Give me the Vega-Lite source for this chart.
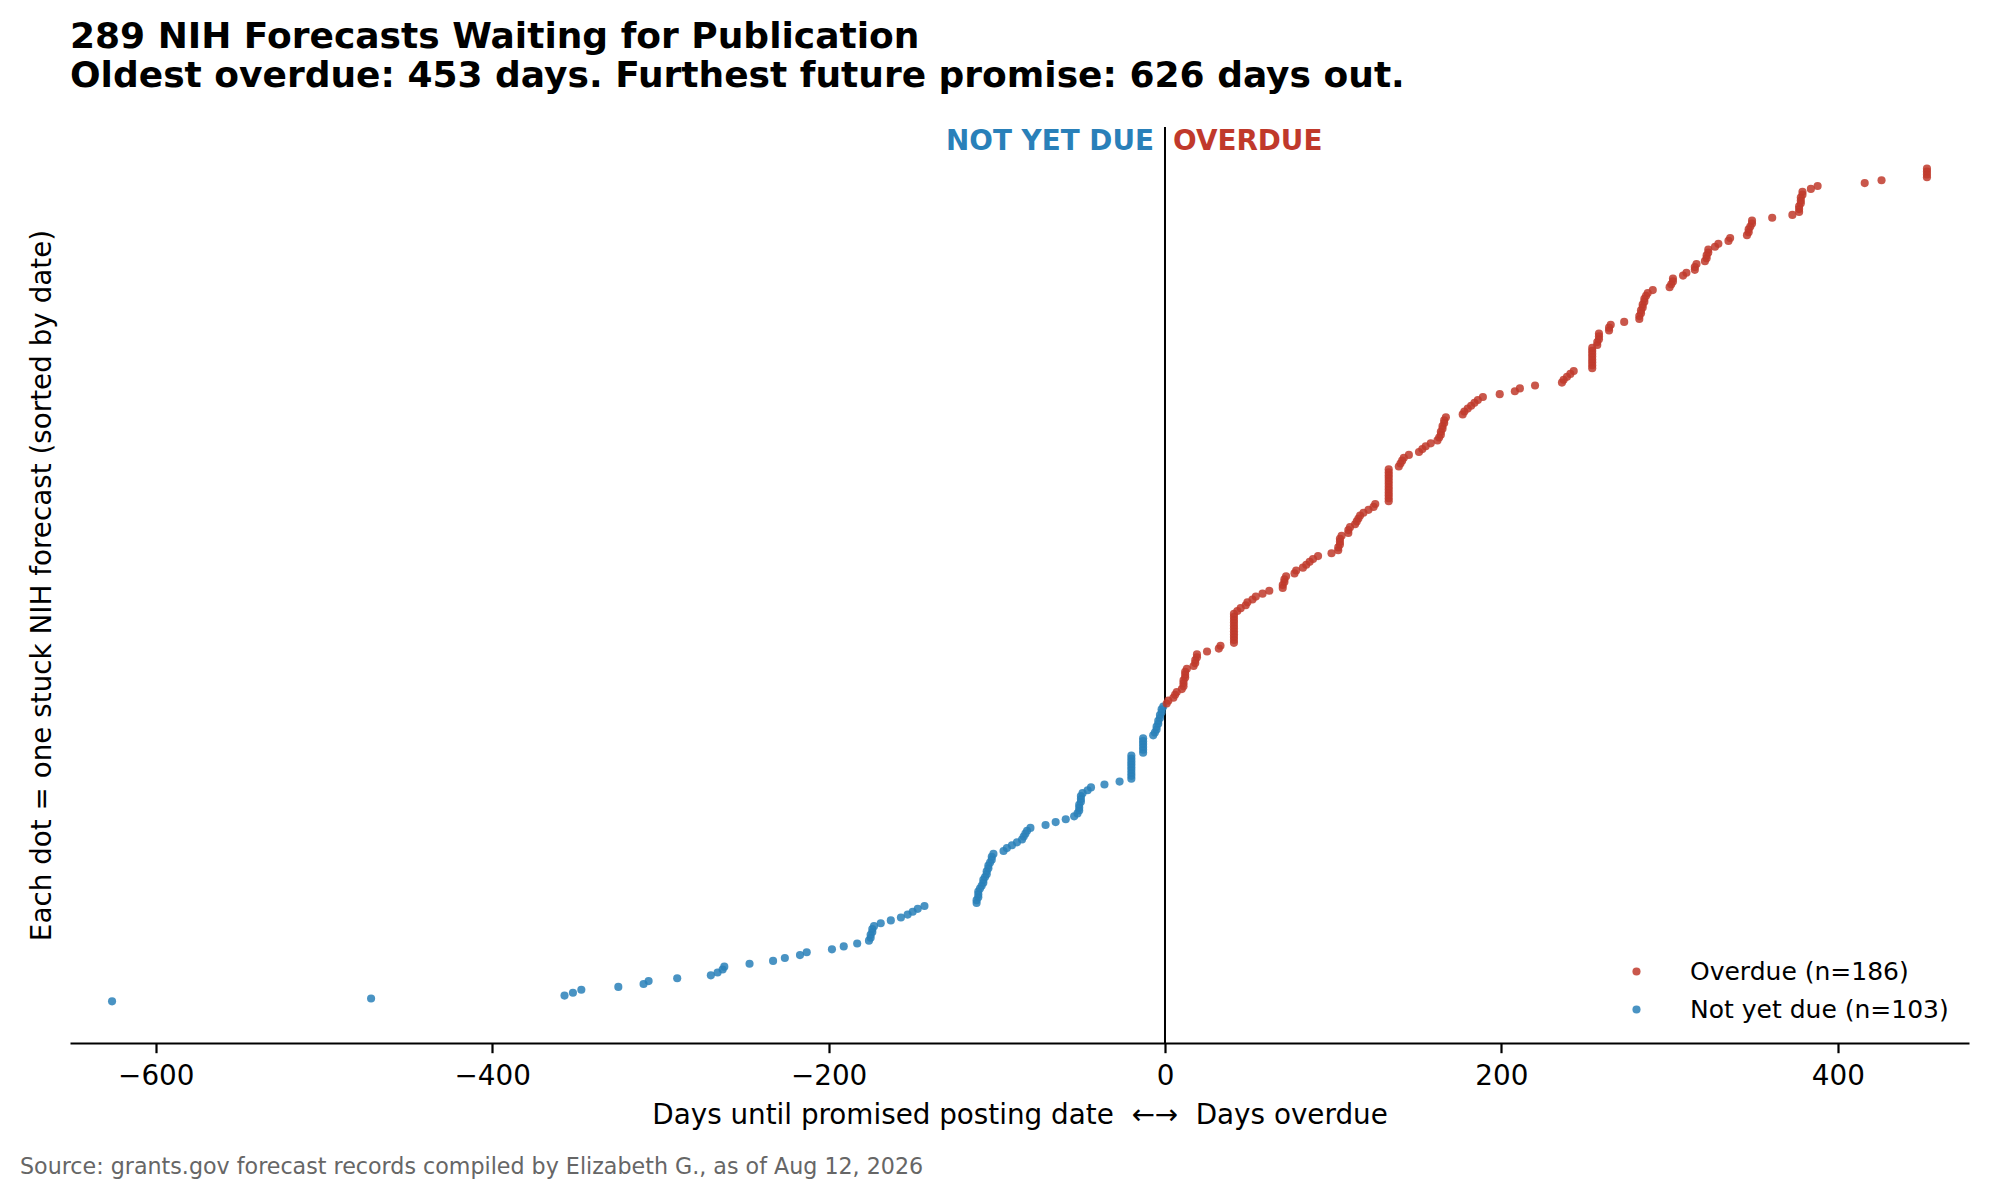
{
  "$schema": "https://vega.github.io/schema/vega-lite/v6.json",
  "width": 1899,
  "height": 916,
  "autosize": {"type": "none"},
  "padding": {"left": 70, "top": 127, "right": 20, "bottom": 155},
  "background": "white",
  "config": {"font": "DejaVu Sans", "view": {"stroke": null}, "axis": {"grid": false}},
  "title": {
    "text": ["289 NIH Forecasts Waiting for Publication", "Oldest overdue: 453 days. Furthest future promise: 626 days out."],
    "anchor": "start",
    "frame": "group",
    "fontSize": 36,
    "fontWeight": "bold",
    "font": "DejaVu Sans",
    "color": "black",
    "offset": 31,
    "lineHeight": 39
  },
  "layer": [
    {
      "data": {"values": [{}]},
      "mark": {"type": "rule", "color": "black", "strokeWidth": 2},
      "encoding": {
        "x": {"datum": 0, "type": "quantitative", "title": "Days until promised posting date\u00a0 ←→ \u00a0Days overdue"}
      }
    },
    {
      "data": {
        "values": [
          {"days": -626, "status": "Not yet due"}, {"days": -472, "status": "Not yet due"}, {"days": -357, "status": "Not yet due"}, {"days": -352, "status": "Not yet due"}, {"days": -347, "status": "Not yet due"}, {"days": -325, "status": "Not yet due"}, {"days": -310, "status": "Not yet due"}, {"days": -307, "status": "Not yet due"}, {"days": -290, "status": "Not yet due"}, {"days": -270, "status": "Not yet due"},
          {"days": -266, "status": "Not yet due"}, {"days": -263, "status": "Not yet due"}, {"days": -262, "status": "Not yet due"}, {"days": -247, "status": "Not yet due"}, {"days": -233, "status": "Not yet due"}, {"days": -226, "status": "Not yet due"}, {"days": -217, "status": "Not yet due"}, {"days": -213, "status": "Not yet due"}, {"days": -198, "status": "Not yet due"}, {"days": -191, "status": "Not yet due"},
          {"days": -183, "status": "Not yet due"}, {"days": -176, "status": "Not yet due"}, {"days": -175, "status": "Not yet due"}, {"days": -175, "status": "Not yet due"}, {"days": -174, "status": "Not yet due"}, {"days": -174, "status": "Not yet due"}, {"days": -173, "status": "Not yet due"}, {"days": -169, "status": "Not yet due"}, {"days": -163, "status": "Not yet due"}, {"days": -157, "status": "Not yet due"},
          {"days": -153, "status": "Not yet due"}, {"days": -150, "status": "Not yet due"}, {"days": -147, "status": "Not yet due"}, {"days": -143, "status": "Not yet due"},
          {"days": -112, "status": "Not yet due"}, {"days": -112, "status": "Not yet due"}, {"days": -111, "status": "Not yet due"}, {"days": -111, "status": "Not yet due"}, {"days": -111, "status": "Not yet due"}, {"days": -110, "status": "Not yet due"},
          {"days": -109, "status": "Not yet due"}, {"days": -108, "status": "Not yet due"}, {"days": -108, "status": "Not yet due"}, {"days": -107, "status": "Not yet due"}, {"days": -106, "status": "Not yet due"}, {"days": -106, "status": "Not yet due"}, {"days": -105, "status": "Not yet due"}, {"days": -105, "status": "Not yet due"}, {"days": -104, "status": "Not yet due"}, {"days": -103, "status": "Not yet due"}, {"days": -103, "status": "Not yet due"}, {"days": -102, "status": "Not yet due"},
          {"days": -96, "status": "Not yet due"}, {"days": -94, "status": "Not yet due"}, {"days": -91, "status": "Not yet due"}, {"days": -88, "status": "Not yet due"}, {"days": -85, "status": "Not yet due"}, {"days": -84, "status": "Not yet due"}, {"days": -83, "status": "Not yet due"}, {"days": -82, "status": "Not yet due"}, {"days": -80, "status": "Not yet due"},
          {"days": -71, "status": "Not yet due"}, {"days": -65, "status": "Not yet due"}, {"days": -59, "status": "Not yet due"}, {"days": -54, "status": "Not yet due"},
          {"days": -52, "status": "Not yet due"}, {"days": -51, "status": "Not yet due"}, {"days": -51, "status": "Not yet due"}, {"days": -51, "status": "Not yet due"}, {"days": -50, "status": "Not yet due"}, {"days": -50, "status": "Not yet due"}, {"days": -50, "status": "Not yet due"}, {"days": -49, "status": "Not yet due"},
          {"days": -46, "status": "Not yet due"}, {"days": -44, "status": "Not yet due"}, {"days": -36, "status": "Not yet due"}, {"days": -27, "status": "Not yet due"},
          {"days": -20, "status": "Not yet due"}, {"days": -20, "status": "Not yet due"}, {"days": -20, "status": "Not yet due"}, {"days": -20, "status": "Not yet due"}, {"days": -20, "status": "Not yet due"}, {"days": -20, "status": "Not yet due"}, {"days": -20, "status": "Not yet due"}, {"days": -20, "status": "Not yet due"}, {"days": -20, "status": "Not yet due"},
          {"days": -13, "status": "Not yet due"}, {"days": -13, "status": "Not yet due"}, {"days": -13, "status": "Not yet due"}, {"days": -13, "status": "Not yet due"}, {"days": -13, "status": "Not yet due"}, {"days": -13, "status": "Not yet due"},
          {"days": -7, "status": "Not yet due"}, {"days": -6, "status": "Not yet due"}, {"days": -5, "status": "Not yet due"}, {"days": -5, "status": "Not yet due"}, {"days": -4, "status": "Not yet due"}, {"days": -4, "status": "Not yet due"}, {"days": -3, "status": "Not yet due"}, {"days": -3, "status": "Not yet due"}, {"days": -2, "status": "Not yet due"}, {"days": -2, "status": "Not yet due"}, {"days": -1, "status": "Not yet due"},
          {"days": 1, "status": "Overdue"}, {"days": 2, "status": "Overdue"}, {"days": 5, "status": "Overdue"}, {"days": 6, "status": "Overdue"}, {"days": 7, "status": "Overdue"}, {"days": 10, "status": "Overdue"}, {"days": 11, "status": "Overdue"}, {"days": 11, "status": "Overdue"}, {"days": 11, "status": "Overdue"}, {"days": 12, "status": "Overdue"},
          {"days": 12, "status": "Overdue"}, {"days": 12, "status": "Overdue"}, {"days": 13, "status": "Overdue"}, {"days": 17, "status": "Overdue"}, {"days": 18, "status": "Overdue"}, {"days": 18, "status": "Overdue"}, {"days": 19, "status": "Overdue"}, {"days": 19, "status": "Overdue"}, {"days": 25, "status": "Overdue"}, {"days": 32, "status": "Overdue"},
          {"days": 33, "status": "Overdue"},
          {"days": 41, "status": "Overdue"}, {"days": 41, "status": "Overdue"}, {"days": 41, "status": "Overdue"}, {"days": 41, "status": "Overdue"}, {"days": 41, "status": "Overdue"}, {"days": 41, "status": "Overdue"}, {"days": 41, "status": "Overdue"}, {"days": 41, "status": "Overdue"}, {"days": 41, "status": "Overdue"}, {"days": 41, "status": "Overdue"}, {"days": 41, "status": "Overdue"},
          {"days": 43, "status": "Overdue"}, {"days": 45, "status": "Overdue"}, {"days": 48, "status": "Overdue"}, {"days": 49, "status": "Overdue"}, {"days": 52, "status": "Overdue"}, {"days": 54, "status": "Overdue"}, {"days": 58, "status": "Overdue"}, {"days": 62, "status": "Overdue"},
          {"days": 70, "status": "Overdue"}, {"days": 70, "status": "Overdue"}, {"days": 71, "status": "Overdue"}, {"days": 71, "status": "Overdue"}, {"days": 72, "status": "Overdue"}, {"days": 77, "status": "Overdue"}, {"days": 78, "status": "Overdue"},
          {"days": 82, "status": "Overdue"}, {"days": 84, "status": "Overdue"}, {"days": 86, "status": "Overdue"}, {"days": 88, "status": "Overdue"}, {"days": 91, "status": "Overdue"}, {"days": 99, "status": "Overdue"},
          {"days": 103, "status": "Overdue"}, {"days": 103, "status": "Overdue"}, {"days": 104, "status": "Overdue"}, {"days": 104, "status": "Overdue"}, {"days": 104, "status": "Overdue"}, {"days": 105, "status": "Overdue"}, {"days": 109, "status": "Overdue"}, {"days": 109, "status": "Overdue"}, {"days": 110, "status": "Overdue"}, {"days": 113, "status": "Overdue"}, {"days": 114, "status": "Overdue"}, {"days": 115, "status": "Overdue"}, {"days": 116, "status": "Overdue"},
          {"days": 118, "status": "Overdue"}, {"days": 121, "status": "Overdue"}, {"days": 124, "status": "Overdue"}, {"days": 125, "status": "Overdue"},
          {"days": 133, "status": "Overdue"}, {"days": 133, "status": "Overdue"}, {"days": 133, "status": "Overdue"}, {"days": 133, "status": "Overdue"}, {"days": 133, "status": "Overdue"}, {"days": 133, "status": "Overdue"}, {"days": 133, "status": "Overdue"}, {"days": 133, "status": "Overdue"}, {"days": 133, "status": "Overdue"}, {"days": 133, "status": "Overdue"}, {"days": 133, "status": "Overdue"}, {"days": 133, "status": "Overdue"},
          {"days": 139, "status": "Overdue"}, {"days": 140, "status": "Overdue"}, {"days": 141, "status": "Overdue"}, {"days": 142, "status": "Overdue"}, {"days": 145, "status": "Overdue"}, {"days": 151, "status": "Overdue"}, {"days": 153, "status": "Overdue"}, {"days": 155, "status": "Overdue"}, {"days": 158, "status": "Overdue"},
          {"days": 162, "status": "Overdue"}, {"days": 163, "status": "Overdue"}, {"days": 164, "status": "Overdue"}, {"days": 164, "status": "Overdue"}, {"days": 165, "status": "Overdue"}, {"days": 165, "status": "Overdue"}, {"days": 166, "status": "Overdue"}, {"days": 166, "status": "Overdue"}, {"days": 167, "status": "Overdue"},
          {"days": 177, "status": "Overdue"}, {"days": 178, "status": "Overdue"}, {"days": 180, "status": "Overdue"}, {"days": 182, "status": "Overdue"}, {"days": 184, "status": "Overdue"}, {"days": 186, "status": "Overdue"}, {"days": 189, "status": "Overdue"}, {"days": 199, "status": "Overdue"}, {"days": 208, "status": "Overdue"}, {"days": 211, "status": "Overdue"}, {"days": 220, "status": "Overdue"},
          {"days": 236, "status": "Overdue"}, {"days": 237, "status": "Overdue"}, {"days": 239, "status": "Overdue"}, {"days": 241, "status": "Overdue"}, {"days": 243, "status": "Overdue"},
          {"days": 254, "status": "Overdue"}, {"days": 254, "status": "Overdue"}, {"days": 254, "status": "Overdue"}, {"days": 254, "status": "Overdue"}, {"days": 254, "status": "Overdue"}, {"days": 254, "status": "Overdue"}, {"days": 254, "status": "Overdue"}, {"days": 254, "status": "Overdue"},
          {"days": 257, "status": "Overdue"}, {"days": 257, "status": "Overdue"}, {"days": 258, "status": "Overdue"}, {"days": 258, "status": "Overdue"}, {"days": 258, "status": "Overdue"}, {"days": 264, "status": "Overdue"}, {"days": 264, "status": "Overdue"}, {"days": 265, "status": "Overdue"}, {"days": 273, "status": "Overdue"},
          {"days": 282, "status": "Overdue"}, {"days": 282, "status": "Overdue"}, {"days": 283, "status": "Overdue"}, {"days": 283, "status": "Overdue"}, {"days": 284, "status": "Overdue"}, {"days": 284, "status": "Overdue"}, {"days": 285, "status": "Overdue"}, {"days": 285, "status": "Overdue"}, {"days": 286, "status": "Overdue"}, {"days": 287, "status": "Overdue"},
          {"days": 290, "status": "Overdue"},
          {"days": 300, "status": "Overdue"}, {"days": 301, "status": "Overdue"}, {"days": 302, "status": "Overdue"}, {"days": 302, "status": "Overdue"}, {"days": 308, "status": "Overdue"}, {"days": 310, "status": "Overdue"}, {"days": 315, "status": "Overdue"}, {"days": 315, "status": "Overdue"}, {"days": 316, "status": "Overdue"}, {"days": 321, "status": "Overdue"}, {"days": 322, "status": "Overdue"}, {"days": 322, "status": "Overdue"}, {"days": 323, "status": "Overdue"}, {"days": 323, "status": "Overdue"}, {"days": 327, "status": "Overdue"}, {"days": 329, "status": "Overdue"}, {"days": 335, "status": "Overdue"}, {"days": 336, "status": "Overdue"},
          {"days": 346, "status": "Overdue"}, {"days": 347, "status": "Overdue"}, {"days": 347, "status": "Overdue"}, {"days": 348, "status": "Overdue"}, {"days": 349, "status": "Overdue"}, {"days": 349, "status": "Overdue"}, {"days": 361, "status": "Overdue"}, {"days": 373, "status": "Overdue"},
          {"days": 377, "status": "Overdue"}, {"days": 377, "status": "Overdue"}, {"days": 377, "status": "Overdue"}, {"days": 378, "status": "Overdue"}, {"days": 378, "status": "Overdue"}, {"days": 378, "status": "Overdue"}, {"days": 379, "status": "Overdue"}, {"days": 379, "status": "Overdue"}, {"days": 384, "status": "Overdue"}, {"days": 388, "status": "Overdue"}, {"days": 416, "status": "Overdue"}, {"days": 426, "status": "Overdue"},
          {"days": 453, "status": "Overdue"}, {"days": 453, "status": "Overdue"}, {"days": 453, "status": "Overdue"}, {"days": 453, "status": "Overdue"}
        ]
      },
      "transform": [
        {"window": [{"op": "row_number", "as": "rank"}], "sort": [{"field": "days", "order": "ascending"}]}
      ],
      "mark": {"type": "circle", "size": 66, "opacity": 0.85},
      "encoding": {
        "x": {
          "field": "days",
          "type": "quantitative",
          "scale": {"domain": [-651, 478], "nice": false, "zero": false},
          "title": "Days until promised posting date\u00a0 ←→ \u00a0Days overdue",
          "axis": {
            "values": [-600, -400, -200, 0, 200, 400],
            "titleFontSize": 27.8,
            "titleFontWeight": "normal",
            "titleColor": "black",
            "labelFontSize": 27.8,
            "labelColor": "black",
            "tickColor": "black",
            "domainColor": "black",
            "tickWidth": 2.2,
            "domainWidth": 2.2,
            "tickSize": 9.7,
            "labelPadding": 10,
            "titlePadding": 11,
            "labelFlush": false,
            "grid": false
          }
        },
        "y": {
          "field": "rank",
          "type": "quantitative",
          "scale": {"domain": [-13.4, 303.4], "nice": false, "zero": false},
          "title": "Each dot = one stuck NIH forecast (sorted by date)",
          "axis": {
            "labels": false,
            "ticks": false,
            "domain": false,
            "grid": false,
            "titleFontSize": 27.8,
            "titleFontWeight": "normal",
            "titleColor": "black",
            "titlePadding": 14
          }
        },
        "color": {
          "field": "status",
          "type": "nominal",
          "scale": {"domain": ["Overdue", "Not yet due"], "range": ["#c0392b", "#2980b9"]},
          "legend": {
            "orient": "bottom-right",
            "title": null,
            "labelExpr": "datum.label == 'Overdue' ? 'Overdue (n=186)' : 'Not yet due (n=103)'",
            "labelFontSize": 25,
            "labelColor": "black",
            "labelLimit": 0,
            "symbolSize": 66,
            "symbolType": "circle",
            "symbolOpacity": 0.85,
            "rowPadding": 12,
            "labelOffset": 41,
            "offset": 20,
            "padding": 0
          }
        }
      }
    },
    {
      "data": {"values": [{}]},
      "mark": {"type": "text", "text": "NOT YET DUE", "align": "right", "dx": -11, "baseline": "alphabetic", "fontSize": 27.8, "fontWeight": "bold", "color": "#2980b9"},
      "encoding": {
        "x": {"datum": 0, "type": "quantitative", "title": "Days until promised posting date\u00a0 ←→ \u00a0Days overdue"},
        "y": {"datum": 295.5, "type": "quantitative", "title": "Each dot = one stuck NIH forecast (sorted by date)"}
      }
    },
    {
      "data": {"values": [{}]},
      "mark": {"type": "text", "text": "OVERDUE", "align": "left", "dx": 8, "baseline": "alphabetic", "fontSize": 27.8, "fontWeight": "bold", "color": "#c0392b"},
      "encoding": {
        "x": {"datum": 0, "type": "quantitative", "title": "Days until promised posting date\u00a0 ←→ \u00a0Days overdue"},
        "y": {"datum": 295.5, "type": "quantitative", "title": "Each dot = one stuck NIH forecast (sorted by date)"}
      }
    },
    {
      "data": {"values": [{}]},
      "mark": {"type": "text", "text": "Source: grants.gov forecast records compiled by Elizabeth G., as of Aug 12, 2026", "align": "left", "baseline": "alphabetic", "fontSize": 22.2, "color": "#666666"},
      "encoding": {
        "x": {"value": -50},
        "y": {"value": 1047}
      }
    }
  ]
}
